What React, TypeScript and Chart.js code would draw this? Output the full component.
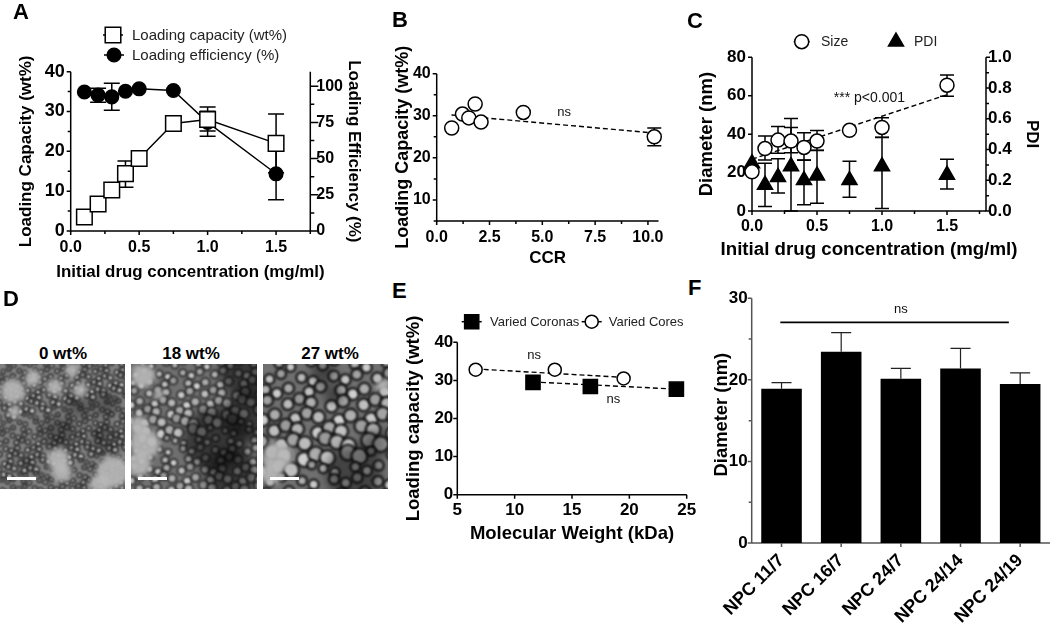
import React, { useEffect, useRef } from "react";
import { Chart, registerables } from "chart.js";
import { drawPoint } from "chart.js/helpers";

Chart.register(...registerables);

// ---------- Panel A ----------
const drugConc = [0.1, 0.2, 0.3, 0.4, 0.5, 0.75, 1.0, 1.5];
const capacity = [3.5, 6.8, 10.3, 14.4, 18.2, 27, 28, 22];
const capacityLow = [3.5, 6.8, 10.3, 11, 18.2, 27, 25.1, 14.6];
const capacityHigh = [3.5, 6.8, 10.3, 17.6, 18.2, 27, 30.1, 29.4];
const efficiency = [96, 93.8, 92.6, 96.5, 98.2, 97, 75, 39.5];
const efficiencyLow = [96, 88.9, 83.4, 96.5, 98.2, 97, 65.5, 21.5];
const efficiencyHigh = [96, 98.5, 102, 96.5, 98.2, 97, 85.7, 57];

// ---------- Panel B ----------
const ccr = [0.71, 1.22, 1.52, 1.82, 2.1, 4.1, 10.3];
const ccrCapacity = [27.1, 30.4, 29.5, 32.8, 28.5, 30.8, 25];
const ccrLow = [27.1, 30.4, 29.5, 32.8, 28.5, 30.8, 22.9];
const ccrHigh = [27.1, 30.4, 29.5, 32.8, 28.5, 30.8, 27.1];
const ccrTrendX = [0.7, 10.3];
const ccrTrendY = [30.2, 25.9];

// ---------- Panel C ----------
const sizeConc = [0, 0.1, 0.2, 0.3, 0.4, 0.5, 0.75, 1.0, 1.5];
const sizeNm = [20.4, 32.5, 36.9, 36.4, 33.1, 36.4, 42, 43.5, 65.5];
const sizeLow = [20.4, 26.5, 30, 30.3, 26.5, 31.5, 42, 38.3, 59.7];
const sizeHigh = [20.4, 39, 44, 48.1, 40.7, 41.9, 42, 48.6, 70.8];
const pdi = [0.31, 0.17, 0.22, 0.29, 0.2, 0.23, 0.2, 0.29, 0.235];
const pdiLow = [0.31, 0.03, 0.117, 0, 0.04, 0.05, 0.089, 0.017, 0.143];
const pdiHigh = [0.31, 0.31, 0.34, 0.544, 0.33, 0.395, 0.323, 0.48, 0.336];
const sizeTrendX = [0, 1.5];
const sizeTrendY = [27, 60.5];

// ---------- Panel E ----------
const coronaMw = [11.6, 16.6, 24.1];
const coronaCapacity = [29.5, 28.4, 27.7];
const coronaTrendX = [11.6, 24.1];
const coronaTrendY = [29.6, 27.7];
const coreMw = [6.6, 13.5, 19.5];
const coreCapacity = [32.8, 32.8, 30.5];
const coreTrendX = [6.6, 19.5];
const coreTrendY = [33, 30.8];

// ---------- Panel F ----------
const npcNames = ["NPC 11/7", "NPC 16/7", "NPC 24/7", "NPC 24/14", "NPC 24/19"];
const npcDiameter = [18.9, 23.45, 20.15, 21.4, 19.5];
const npcHigh = [19.65, 25.8, 21.4, 23.85, 20.85];

const FONT = '"Liberation Sans", Arial, sans-serif';
const zip = (xs: number[], ys: number[]) => xs.map((x, i) => ({ x, y: ys[i] }));
const isMult = (v: number, m: number) => Math.abs(v / m - Math.round(v / m)) < 1e-6;

type Box = { x: number; y: number; w: number; h: number };
type Plot = { l: number; r: number; t: number; b: number };

function axis(o: any, box: Box, plot: Plot) {
  const side = o.position;
  return {
    type: o.type || "linear",
    position: side,
    min: o.min,
    max: o.max,
    offset: o.type === "category",
    grid: { display: false, drawTicks: false },
    border: { display: false },
    ticks: {
      stepSize: o.minor,
      includeBounds: false,
      autoSkip: false,
      maxRotation: o.rotate || 0,
      minRotation: o.rotate || 0,
      padding: o.pad,
      color: "#000",
      font: { family: FONT, weight: "bold", size: o.tickSize || 16 },
      callback:
        o.type === "category"
          ? function (this: any, v: any) {
              return this.getLabelForValue(v);
            }
          : (v: number) => (isMult(v, o.major) ? v.toFixed(o.dec || 0) : ""),
    },
    title: o.title
      ? {
          display: true,
          text: o.title,
          color: "#000",
          padding: 0,
          font: { family: FONT, weight: "bold", size: o.titleSize || 16 },
        }
      : { display: false },
    afterFit(s: any) {
      if (side === "left") s.width = plot.l - box.x;
      if (side === "right") s.width = box.x + box.w - plot.r;
      if (side === "bottom") s.height = box.y + box.h - plot.b;
      s.paddingLeft = s.paddingRight = s.paddingTop = s.paddingBottom = 0;
      if ((o.titleShift || o.titleWiden) && !s._shifted) {
        s._shifted = true;
        const base = Object.getPrototypeOf(s).drawTitle;
        const shift = o.titleShift || 0;
        const widen = o.titleWiden || 0;
        // The library squeezes a horizontal title into the plot width; the original runs wider.
        s.drawTitle = function () {
          this.top += shift;
          this.bottom += shift;
          this.left -= widen;
          this.right += widen;
          base.call(this);
          this.top -= shift;
          this.bottom -= shift;
          this.left += widen;
          this.right -= widen;
        };
      }
    },
  };
}

function layoutPad(box: Box, plot: Plot, hasRight: boolean) {
  return {
    top: plot.t - box.y,
    right: hasRight ? 0 : box.x + box.w - plot.r,
    left: 0,
    bottom: 0,
  };
}

// Draws axis lines, ticks of two lengths, error bars, notes and legend, always through the scales.
function decorations(spec: any) {
  return {
    id: "decorations",
    beforeDatasetsDraw(chart: any) {
      const ctx = chart.ctx;
      ctx.save();
      const col = spec.axisColor || "#000";
      ctx.strokeStyle = col;
      ctx.lineWidth = spec.axisWidth || 1.5;
      Object.keys(chart.scales).forEach((id) => {
        const s = chart.scales[id];
        const a = spec.axes[id];
        const pos = s.position;
        ctx.beginPath();
        if (pos === "left" || pos === "right") {
          const x = pos === "left" ? chart.chartArea.left : chart.chartArea.right;
          ctx.moveTo(x, chart.chartArea.top);
          ctx.lineTo(x, chart.chartArea.bottom + 0.6);
          s.ticks.forEach((t: any, i: number) => {
            const major = isMult(t.value, a.major);
            const y = s.getPixelForTick(i);
            const len = major ? a.len : a.minorLen;
            ctx.moveTo(x, y);
            ctx.lineTo(pos === "left" ? x - len : x + len, y);
          });
        } else {
          const y = chart.chartArea.bottom;
          ctx.moveTo(chart.chartArea.left, y);
          ctx.lineTo(chart.chartArea.right, y);
          s.ticks.forEach((t: any, i: number) => {
            const major = a.major ? isMult(t.value, a.major) : true;
            const x = s.getPixelForTick(i);
            ctx.moveTo(x, y);
            ctx.lineTo(x, y + (major ? a.len : a.minorLen));
          });
        }
        ctx.stroke();
      });
      (spec.errors || []).forEach((e: any) => {
        const sx = chart.scales.x;
        const sy = chart.scales[e.axis || "y"];
        ctx.strokeStyle = e.color || "#000";
        ctx.lineWidth = e.width || 1.5;
        e.xs.forEach((xv: number, i: number) => {
          if (e.low[i] === e.high[i]) return;
          const x = sx.getPixelForValue(xv);
          const y0 = sy.getPixelForValue(e.low[i]);
          const y1 = sy.getPixelForValue(e.high[i]);
          ctx.beginPath();
          ctx.moveTo(x, y0);
          ctx.lineTo(x, y1);
          ctx.moveTo(x - e.cap, y1);
          ctx.lineTo(x + e.cap, y1);
          ctx.moveTo(x - e.cap, y0);
          ctx.lineTo(x + e.cap, y0);
          ctx.stroke();
        });
      });
      ctx.restore();
    },
    afterDatasetsDraw(chart: any) {
      const ctx = chart.ctx;
      const box: Box = spec.box;
      ctx.save();
      (spec.errorsTop || []).forEach((e: any) => {
        const sx = chart.scales.x;
        const sy = chart.scales.y;
        ctx.strokeStyle = e.color;
        ctx.lineWidth = e.width;
        e.xs.forEach((xv: number, i: number) => {
          const x = sx.getPixelForValue(xv);
          const y0 = sy.getPixelForValue(e.low[i]);
          const y1 = sy.getPixelForValue(e.high[i]);
          ctx.beginPath();
          ctx.moveTo(x, y0);
          ctx.lineTo(x, y1);
          ctx.moveTo(x - e.cap, y1);
          ctx.lineTo(x + e.cap, y1);
          ctx.stroke();
        });
      });
      if (spec.bracket) {
        const b = spec.bracket;
        const y = chart.scales.y.getPixelForValue(b.y);
        ctx.strokeStyle = "#000";
        ctx.lineWidth = 1.6;
        ctx.beginPath();
        ctx.moveTo(chart.scales.x.getPixelForValue(b.from), y);
        ctx.lineTo(chart.scales.x.getPixelForValue(b.to), y);
        ctx.stroke();
      }
      ctx.fillStyle = "#111";
      ctx.textAlign = "center";
      ctx.textBaseline = "middle";
      (spec.notes || []).forEach((n: any) => {
        ctx.font = `${n.size || 13}px ${FONT}`;
        ctx.fillText(
          n.text,
          chart.scales.x.getPixelForValue(n.x),
          chart.scales.y.getPixelForValue(n.y)
        );
      });
      (spec.legend || []).forEach((l: any) => {
        const x = l.px - box.x;
        const y = l.py - box.y;
        ctx.strokeStyle = "#000";
        ctx.lineWidth = 1.5;
        ctx.beginPath();
        ctx.moveTo(x - l.tail, y);
        ctx.lineTo(x + l.tail, y);
        ctx.stroke();
        ctx.fillStyle = l.fill;
        drawPoint(ctx, { pointStyle: l.style, rotation: 0, radius: l.radius, borderWidth: 1.5 }, x, y);
        ctx.fillStyle = "#222";
        ctx.textAlign = "left";
        ctx.font = `${l.size}px ${FONT}`;
        ctx.fillText(l.text, l.tx - box.x, y + 0.5);
      });
      ctx.restore();
    },
  };
}

function pointSet(label: string, data: any[], style: string, radius: number, fill: string, extra: any = {}) {
  return {
    label,
    data,
    pointStyle: style,
    pointRadius: radius,
    pointBackgroundColor: fill,
    pointBorderColor: "#000",
    pointBorderWidth: 1.5,
    borderColor: "#000",
    borderWidth: 1.4,
    showLine: false,
    clip: false,
    ...extra,
  };
}

function trendSet(label: string, data: any[], extra: any = {}) {
  return {
    label,
    data,
    pointRadius: 0,
    borderColor: "#000",
    borderWidth: 1.4,
    borderDash: [5, 3],
    showLine: true,
    clip: false,
    ...extra,
  };
}

const baseOptions = {
  responsive: false,
  maintainAspectRatio: false,
  animation: false,
  devicePixelRatio: 1,
  events: [],
  plugins: { legend: { display: false }, tooltip: { enabled: false }, title: { display: false } },
};

function build(box: Box, plot: Plot, axes: any, datasets: any[], spec: any, type = "scatter", labels?: string[]) {
  const scales: any = {};
  Object.keys(axes).forEach((k) => (scales[k] = axis(axes[k], box, plot)));
  return {
    type,
    data: { labels, datasets },
    options: {
      ...baseOptions,
      layout: { padding: layoutPad(box, plot, !!axes.y2), autoPadding: false },
      scales,
    },
    plugins: [decorations({ ...spec, box, axes })],
  };
}

const panels: { box: Box; make: (box: Box) => any }[] = [
  {
    box: { x: 16, y: 20, w: 348, h: 262 },
    make: (box) =>
      build(
        box,
        { l: 70.7, r: 310.3, t: 71.7, b: 231 },
        {
          x: { position: "bottom", min: 0, max: 1.75, minor: 0.25, major: 0.5, dec: 1, pad: 7, len: 4, minorLen: 3, title: "Initial drug concentration (mg/ml)", titleSize: 16.9, titleWiden: 40 },
          y: { position: "left", min: 0, max: 40, minor: 5, major: 10, pad: 6, len: 4, minorLen: 3, tickSize: 18, title: "Loading Capacity (wt%)", titleSize: 17 },
          y2: { position: "right", min: 0, max: 110, minor: 12.5, major: 25, pad: 6, len: 8, minorLen: 4, title: "Loading Efficiency (%)", titleSize: 17 },
        },
        [
          pointSet("Loading capacity (wt%)", zip(drugConc, capacity), "rect", 11, "#fff", { showLine: true }),
          pointSet("Loading efficiency (%)", zip(drugConc, efficiency), "circle", 6.8, "#000", { showLine: true, yAxisID: "y2" }),
        ],
        {
          errors: [
            { xs: drugConc, low: capacityLow, high: capacityHigh, cap: 8 },
            { xs: drugConc, low: efficiencyLow, high: efficiencyHigh, axis: "y2", cap: 8 },
          ],
          legend: [
            { px: 113, py: 35, tail: 10, style: "rect", radius: 11, fill: "#fff", text: "Loading capacity (wt%)", tx: 132, size: 15 },
            { px: 114, py: 55, tail: 10, style: "circle", radius: 6.8, fill: "#000", text: "Loading efficiency (%)", tx: 132, size: 15 },
          ],
        }
      ),
  },
  {
    box: { x: 392, y: 30, w: 290, h: 239 },
    make: (box) =>
      build(
        box,
        { l: 436.7, r: 658.5, t: 73.7, b: 221 },
        {
          x: { position: "bottom", min: 0, max: 10.5, minor: 1.25, major: 2.5, dec: 1, pad: 7, len: 4, minorLen: 3, title: "CCR", titleSize: 17 },
          y: { position: "left", min: 5, max: 40, minor: 5, major: 10, pad: 6, len: 4, minorLen: 3, title: "Loading Capacity (wt%)", titleSize: 18 },
        },
        [
          pointSet("CCR", zip(ccr, ccrCapacity), "circle", 7, "#fff"),
          trendSet("CCR trend", zip(ccrTrendX, ccrTrendY)),
        ],
        {
          errors: [{ xs: ccr, low: ccrLow, high: ccrHigh, cap: 7 }],
          notes: [{ text: "ns", x: 6.03, y: 30.9 }],
        }
      ),
  },
  {
    box: { x: 696, y: 25, w: 346, h: 236 },
    make: (box) =>
      build(
        box,
        { l: 752, r: 986, t: 57.3, b: 211 },
        {
          x: { position: "bottom", min: 0, max: 1.8, minor: 0.25, major: 0.5, dec: 1, pad: 6, len: 4, minorLen: 3, title: "Initial drug concentration (mg/ml)", titleSize: 18.7, titleWiden: 50 },
          y: { position: "left", min: 0, max: 80, minor: 20, major: 20, pad: 6, len: 4, minorLen: 3, tickSize: 17, title: "Diameter (nm)", titleSize: 18.5 },
          y2: { position: "right", min: 0, max: 1, minor: 0.1, major: 0.2, dec: 1, pad: 2, len: 4, minorLen: 3, tickSize: 17, title: "PDI", titleSize: 17 },
        },
        [
          pointSet("Size", zip(sizeConc, sizeNm), "circle", 7, "#fff"),
          pointSet("PDI", zip(sizeConc, pdi), "triangle", 8.7, "#000", { yAxisID: "y2" }),
          trendSet("Size trend", zip(sizeTrendX, sizeTrendY)),
        ],
        {
          errors: [
            { xs: sizeConc, low: sizeLow, high: sizeHigh, cap: 7 },
            { xs: sizeConc, low: pdiLow, high: pdiHigh, axis: "y2", cap: 7 },
          ],
          notes: [{ text: "*** p<0.001", x: 0.903, y: 58.5, size: 14 }],
          legend: [
            { px: 801.7, py: 41.7, tail: 8, style: "circle", radius: 7, fill: "#fff", text: "Size", tx: 821, size: 14 },
            { px: 896, py: 41.7, tail: 0, style: "triangle", radius: 8.7, fill: "#000", text: "PDI", tx: 914, size: 14 },
          ],
        }
      ),
  },
  {
    box: { x: 403, y: 305, w: 299, h: 240 },
    make: (box) =>
      build(
        box,
        { l: 457.3, r: 686.7, t: 342.3, b: 494.7 },
        {
          x: { position: "bottom", min: 5, max: 25, minor: 5, major: 5, pad: 5, len: 4, minorLen: 4, tickSize: 17, title: "Molecular Weight (kDa)", titleSize: 18.5 },
          y: { position: "left", min: 0, max: 40, minor: 10, major: 10, pad: 4, len: 4, minorLen: 4, tickSize: 17, title: "Loading capacity (wt%)", titleSize: 18.5 },
        },
        [
          pointSet("Varied Coronas", zip(coronaMw, coronaCapacity), "rect", 10, "#000"),
          pointSet("Varied Cores", zip(coreMw, coreCapacity), "circle", 6.5, "#fff"),
          trendSet("Corona trend", zip(coronaTrendX, coronaTrendY)),
          trendSet("Core trend", zip(coreTrendX, coreTrendY)),
        ],
        {
          notes: [
            { text: "ns", x: 11.7, y: 36.5 },
            { text: "ns", x: 18.6, y: 24.9 },
          ],
          legend: [
            { px: 471.7, py: 321.7, tail: 10, style: "rect", radius: 10, fill: "#000", text: "Varied Coronas", tx: 490, size: 13 },
            { px: 591.7, py: 321.7, tail: 10, style: "circle", radius: 6.5, fill: "#fff", text: "Varied Cores", tx: 608.7, size: 13 },
          ],
        }
      ),
  },
  {
    box: { x: 711, y: 290, w: 339, h: 335 },
    make: (box) =>
      build(
        box,
        { l: 751.7, r: 1050, t: 298.3, b: 543 },
        {
          x: { type: "category", position: "bottom", rotate: 45, pad: 7, len: 4, minorLen: 4, tickSize: 18 },
          y: { position: "left", min: 0, max: 30, minor: 5, major: 10, pad: 4, len: 4, minorLen: 3, tickSize: 17, title: "Diameter (nm)", titleSize: 18.4, titleShift: -6 },
        },
        [
          {
            label: "Diameter",
            data: npcDiameter,
            backgroundColor: "#000",
            borderWidth: 0,
            categoryPercentage: 1,
            barPercentage: 0.68,
          },
        ],
        {
          axisColor: "#555",
          errorsTop: [{ xs: [0, 1, 2, 3, 4], low: npcDiameter, high: npcHigh, cap: 10, color: "#222", width: 1.2 }],
          bracket: { from: -0.02, to: 3.81, y: 27.05 },
          notes: [{ text: "ns", x: 2, y: 28.65 }],
        },
        "bar",
        npcNames
      ),
  },
];

function ChartPanel({ box, make }: { box: Box; make: (b: Box) => any }) {
  const ref = useRef<HTMLCanvasElement | null>(null);
  useEffect(() => {
    const chart = new Chart(ref.current as any, make(box));
    return () => chart.destroy();
  }, []);
  return (
    <canvas
      ref={ref}
      width={box.w}
      height={box.h}
      style={{ position: "absolute", left: box.x, top: box.y, width: box.w, height: box.h }}
    />
  );
}

// ---------- Panel D: stand-ins for the micrographs (picture texture, not chart data) ----------
const micrographs = [
  {
    x: 0, y: 364, w: 125, h: 125, cell: 7.5, core: 1.8, ink: "rgba(10,10,10,0.85)", base: "#808080", barX: 7,
    patches: [[13, 27, 12], [33, 14, 8], [55, 23, 8], [80, 26, 7], [72, 6, 7], [58, 95, 11], [62, 108, 10], [113, 108, 16], [100, 120, 10], [14, 48, 6]],
    shade: [[78, 42, 12], [105, 40, 12], [60, 70, 16], [105, 75, 14], [25, 100, 8]],
    shadeAlpha: 0.3,
  },
  {
    x: 131, y: 364, w: 126, h: 125, cell: 11, core: 3.4, ink: "rgba(20,20,20,0.7)", base: "#707070", barX: 7,
    patches: [[12, 12, 12], [8, 62, 10], [14, 80, 15], [8, 100, 12], [28, 30, 5]],
    shade: [[115, 8, 26], [85, 75, 32], [118, 50, 26], [100, 110, 26]],
    shadeAlpha: 0.5,
  },
  {
    x: 263, y: 364, w: 125, h: 125, cell: 15, core: 5, ink: "rgba(15,15,15,0.8)", base: "#707070", barX: 7,
    patches: [[15, 92, 15], [8, 110, 11], [120, 22, 7]],
    shade: [[60, 8, 12], [90, 110, 28], [112, 80, 14], [70, 30, 10]],
    shadeAlpha: 0.4,
  },
];

function Micrograph({ m }: { m: any }) {
  const ref = useRef<HTMLCanvasElement | null>(null);
  useEffect(() => {
    const ctx = (ref.current as HTMLCanvasElement).getContext("2d") as CanvasRenderingContext2D;
    ctx.fillStyle = m.base;
    ctx.fillRect(0, 0, m.w, m.h);
    ctx.filter = "blur(0.8px)";
    const rows = Math.ceil(m.h / (m.cell * 0.87)) + 2;
    const cols = Math.ceil(m.w / m.cell) + 2;
    for (let j = 0; j < rows; j++) {
      for (let i = 0; i < cols; i++) {
        const a = (i * 0.618 + j * 0.382) % 1;
        const b = (i * 0.414 + j * 0.732) % 1;
        const cx = (i + (j % 2) * 0.5) * m.cell + (a - 0.5) * m.cell * 0.6;
        const cy = j * m.cell * 0.87 + (b - 0.5) * m.cell * 0.6;
        const r = m.core * (0.65 + 0.7 * ((a + b) % 1));
        ctx.beginPath();
        ctx.arc(cx, cy, r + m.cell * 0.17, 0, Math.PI * 2);
        ctx.fillStyle = m.ink;
        ctx.fill();
        ctx.beginPath();
        ctx.arc(cx, cy, r, 0, Math.PI * 2);
        const g = 150 + Math.round(60 * b);
        ctx.fillStyle = `rgb(${g},${g},${g})`;
        ctx.fill();
      }
    }
    ctx.filter = "blur(5px)";
    m.shade.forEach(([x, y, r]: number[]) => {
      ctx.beginPath();
      ctx.arc(x, y, r, 0, Math.PI * 2);
      ctx.fillStyle = `rgba(0,0,0,${m.shadeAlpha})`;
      ctx.fill();
    });
    ctx.filter = "blur(2.5px)";
    m.patches.forEach(([x, y, r]: number[]) => {
      ctx.beginPath();
      ctx.arc(x, y, r, 0, Math.PI * 2);
      ctx.fillStyle = "rgba(185,185,185,0.9)";
      ctx.fill();
    });
    ctx.filter = "none";
    ctx.fillStyle = "#fff";
    ctx.fillRect(m.barX, 113, 29, 3);
  }, []);
  return (
    <canvas
      ref={ref}
      width={m.w}
      height={m.h}
      style={{ position: "absolute", left: m.x, top: m.y, width: m.w, height: m.h }}
    />
  );
}

const panelLetters = [
  ["A", 13, 0],
  ["B", 392, 8],
  ["C", 687, 9],
  ["D", 3, 287],
  ["E", 392, 279],
  ["F", 688, 276],
];
const micrographTitles = [
  ["0 wt%", 63],
  ["18 wt%", 191],
  ["27 wt%", 330],
];

export default function App() {
  return (
    <div style={{ position: "absolute", left: 0, top: 0, width: 1050, height: 625, overflow: "hidden", background: "#fff", fontFamily: FONT }}>
      {panels.map((p, i) => (
        <ChartPanel key={i} box={p.box} make={p.make} />
      ))}
      {micrographs.map((m, i) => (
        <Micrograph key={i} m={m} />
      ))}
      {panelLetters.map(([t, x, y]) => (
        <div key={t as string} style={{ position: "absolute", left: x as number, top: y as number, fontSize: 22, lineHeight: "24px", fontWeight: "bold", color: "#000" }}>
          {t}
        </div>
      ))}
      {micrographTitles.map(([t, x]) => (
        <div key={t as string} style={{ position: "absolute", left: (x as number) - 50, width: 100, top: 345, textAlign: "center", fontSize: 17, lineHeight: "18px", fontWeight: "bold", color: "#000" }}>
          {t}
        </div>
      ))}
    </div>
  );
}
